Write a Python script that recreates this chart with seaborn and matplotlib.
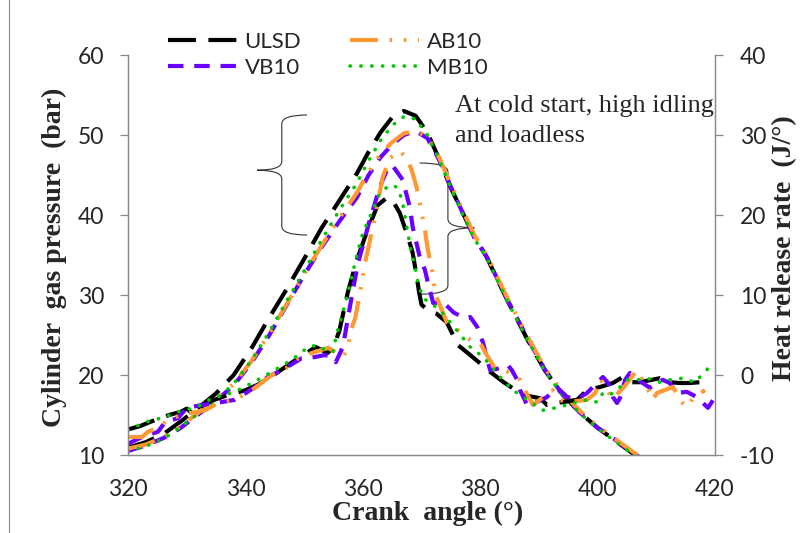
import matplotlib
matplotlib.use("Agg")
import matplotlib.pyplot as plt
import seaborn as sns
from matplotlib.path import Path
from matplotlib.patches import PathPatch
from matplotlib.lines import Line2D

# ---- data ----
fuels = ["ULSD", "VB10", "AB10", "MB10"]

# cylinder gas pressure (bar), common crank angle grid
p_angle = [320, 323, 326, 329, 332, 335, 338, 341, 344, 347, 350, 353, 356, 359, 361, 363, 365, 367,
           369, 371, 373, 375, 377, 379, 381, 383, 385, 388, 391, 394, 397, 400, 403, 406, 409]
ulsd_p = [10.9, 11.6, 12.6, 14.2, 15.9, 17.7, 20.0, 23.3, 27.1, 30.7, 34.5, 38.4, 41.8, 45.2, 47.9, 50.3, 52.2, 53.0,
          52.4, 50.3, 47.0, 43.4, 40.3, 37.3, 34.9, 31.8, 28.8, 24.5, 20.6, 17.6, 15.3, 13.4, 11.8, 10.2, 8.7]
vb10_p = [10.5, 11.2, 12.1, 13.4, 15.1, 16.8, 18.7, 21.5, 24.9, 28.7, 32.5, 36.0, 39.2, 42.2, 45.0, 47.2, 48.8, 50.0,
          50.5, 49.6, 46.9, 43.5, 40.3, 37.2, 34.9, 31.9, 28.9, 24.7, 20.7, 17.6, 15.3, 13.4, 11.9, 10.3, 8.8]
ab10_p = [10.8, 11.3, 12.2, 13.6, 15.3, 17.0, 18.9, 21.7, 25.1, 28.8, 32.6, 36.2, 39.6, 42.8, 45.4, 47.6, 49.1, 50.2,
          50.5, 49.8, 47.2, 43.8, 40.6, 37.5, 35.1, 32.1, 29.1, 24.9, 20.9, 17.8, 15.5, 13.6, 12.0, 10.4, 8.9]
mb10_p = [10.4, 11.1, 12.0, 13.5, 15.2, 16.9, 18.9, 21.8, 25.3, 29.2, 33.0, 36.9, 40.6, 44.0, 46.8, 49.3, 51.2, 52.3,
          52.0, 50.0, 46.9, 43.4, 40.1, 37.0, 34.8, 31.7, 28.7, 24.5, 20.5, 17.5, 15.2, 13.3, 11.7, 10.1, 8.6]

# heat release rate (J/deg)
ulsd_h_angle = [320, 322, 324, 327, 329, 330, 331, 332, 334, 337, 340, 342, 344, 346, 349, 352, 354, 355, 356,
                357.5, 359, 360.5, 362.5, 364, 365, 366.3, 367.7, 368.5, 369.2, 369.6, 370, 371.1, 372.5, 374.3,
                376.2, 378.3, 381.7, 384, 387.3, 390.2, 391.4, 393.1, 396.5, 398.2, 400.4, 402.6, 404.3, 405.9,
                407.2, 410.6, 412.3, 414, 415.7, 417.4, 418]
ulsd_h = [-6.8, -6.4, -5.8, -5.0, -4.6, -4.2, -4.8, -4.1, -3.3, -2.5, -1.9, -1.25, -0.4, 0.6, 2.1, 3.5, 2.75, 3.5, 5.5,
          10.5, 14.4, 17.5, 21.2, 22.1, 21.9, 20.25, 17.25, 15.25, 12.25, 10.3, 8.8, 8.1, 7.7, 6.6,
          3.75, 2.5, 0.4, -0.9, -2.5, -2.9, -3.75, -3.5, -3.1, -1.9, -1.5, -1.0, -0.25, -0.9,
          -0.9, -0.4, -0.9, -1.0, -1.0, -0.9, -0.25]

vb10_h_angle = [320, 322.4, 325.1, 326.3, 328.5, 330, 332.6, 335, 338.2, 340.4, 342.1, 343.8, 346.2, 349.6, 351.9,
                353.5, 354.9, 355.4, 356.6, 357.5, 358.3, 359.2, 361.2, 362.9, 364.1, 365, 366.8, 368, 368.5,
                369.7, 370.6, 371.1, 372, 373.7, 375.5, 377.4, 378.3, 379.5, 380.5, 381.2, 381.7, 383, 383.9,
                384.7, 385.4, 386.3, 386.8, 388, 389.3, 391.4, 392.4, 393.6, 394.8, 396.5, 398.2, 399.2, 400.9,
                401.8, 402.6, 403.3, 403.8, 404.7, 405.5, 406.9, 408.9, 410.1, 411.1, 412.3, 413.5, 415.2,
                416.9, 418.8, 419.7]
vb10_h = [-8.6, -7.75, -7.1, -5.9, -5.4, -4.1, -3.75, -3.5, -3.1, -2.1, -1.25, -0.25, 0.6, 2.1, 2.25,
          2.5, 2.25, 1.6, 3.5, 7.25, 10.6, 14.0, 19.4, 23.5, 25.6, 26.25, 24.4, 21.0, 18.5,
          14.75, 13.1, 11.5, 9.0, 9.1, 7.8, 7.1, 7.25, 6.0, 4.0, 1.9, 0.6, 0.8, 1.0,
          1.25, 0.6, -0.6, -1.9, -3.75, -3.5, -2.75, -1.9, -1.9, -2.75, -3.0, -2.25, -1.5, -0.25,
          -1.0, -2.75, -3.5, -2.9, -0.6, 0.25, -0.6, -1.6, -1.0, -0.6, -1.0, -2.25, -2.1,
          -2.75, -4.1, -3.1]

ab10_h_angle = [320, 322.4, 323.4, 325.1, 326.8, 329, 331, 333.1, 334.8, 338.7, 341.1, 344.5, 347.3, 349, 351.3,
                354.1, 355.6, 356.6, 357.5, 357.8, 358.7, 359.2, 360, 360.4, 361.6, 362.4, 363.4, 364.6, 366.3,
                367.7, 368.4, 369.2, 369.7, 370.6, 370.9, 371.4, 371.9, 372.3, 374.3, 376.6, 378.3, 380, 381.3,
                382.5, 384.7, 386.8, 387.6, 389, 390.7, 392.4, 393.6, 394.8, 398.2, 399.6, 400.5, 402.5, 404.5,
                406.7, 407.6, 408.9, 409.4, 410.1, 412.8, 414.5, 415.4, 416.3, 418.3]
ab10_h = [-7.75, -7.75, -7.1, -6.6, -5.6, -5.0, -4.7, -4.4, -3.75, -2.9, -1.9, 0.0, 1.0, 2.1, 2.75,
          3.4, 2.75, 2.25, 3.4, 5.25, 7.1, 9.0, 12.25, 14.1, 18.1, 21.0, 24.75, 27.1, 28.0,
          26.9, 25.4, 23.4, 21.5, 18.1, 16.5, 14.4, 12.75, 10.25, 6.6, 5.4, 4.4, 4.0, 2.25,
          0.9, 0.4, -0.6, -1.9, -3.75, -2.75, -1.9, -3.1, -3.4, -3.1, -2.25, -0.5, -3.0, -1.5,
          0.6, -0.6, -2.25, -3.1, -2.25, -1.5, -3.5, -4.0, -2.75, -1.9]

mb10_h_angle = [320, 322.9, 326.3, 328.5, 331.8, 334.3, 338.2, 341.1, 344.5, 347.9, 350.7, 352.3, 353.6, 354.9,
                355.6, 356.1, 357.3, 359.2, 360, 361.7, 362.9, 364.6, 365.8, 366.7, 367.5, 368.2, 368.9, 369.4,
                370.3, 372, 373.2, 376, 378.3, 380.5, 383.4, 385.6, 388, 390.7, 393.6, 395.8, 398.2, 400,
                400.9, 402.1, 403.3, 405, 406.7, 408.4, 410.6, 412.3, 414.5, 416.6, 418.3, 419.7]
mb10_h = [-6.9, -5.9, -5.25, -4.6, -4.0, -2.9, -2.1, -1.0, 0.4, 1.9, 3.5, 3.75, 3.1, 2.9,
          5.25, 6.5, 9.75, 15.6, 17.75, 20.6, 22.75, 23.75, 23.5, 21.9, 18.5, 15.5, 13.5, 11.5,
          9.6, 8.75, 8.1, 5.6, 3.5, 2.25, -0.25, -1.9, -3.1, -4.4, -4.0, -3.5, -3.1, -3.4,
          -2.25, -2.5, -1.9, -0.6, -0.6, -0.4, -0.9, -0.6, -0.4, -0.9, 0.4, 1.6]

pressure = {"ULSD": ulsd_p, "VB10": vb10_p, "AB10": ab10_p, "MB10": mb10_p}
hrr = {"ULSD": (ulsd_h_angle, ulsd_h), "VB10": (vb10_h_angle, vb10_h),
       "AB10": (ab10_h_angle, ab10_h), "MB10": (mb10_h_angle, mb10_h)}

colors = {"ULSD": "#000000", "VB10": "#6a00ff", "AB10": "#ff9933", "MB10": "#00c800"}
styles = {"ULSD": (0, (6.7, 3.0)),
          "VB10": (0, (3.7, 2.6)),
          "AB10": (0, (6.7, 2.8, 0.6, 2.8, 0.6, 2.8)),
          "MB10": (0, (0.1, 2.9))}
caps = {"ULSD": "butt", "VB10": "butt", "AB10": "butt", "MB10": "round"}
widths = {"ULSD": 3.0, "VB10": 3.0, "AB10": 3.0, "MB10": 2.6}

sns.set_style("white")
plt.rcParams["font.family"] = ["Lato", "DejaVu Sans"]
plt.rcParams["axes.unicode_minus"] = False
serif = "Liberation Serif"
axis_grey = "#8a8a8a"

fig = plt.figure(figsize=(8.03, 5.33), dpi=100)
ax = fig.add_axes([0.1594, 0.1463, 0.7310, 0.7505])
ax2 = ax.twinx()

for f in fuels:
    sns.lineplot(x=p_angle, y=pressure[f], ax=ax, color=colors[f], lw=widths[f], linestyle=styles[f],
                 dash_capstyle=caps[f], sort=False, estimator=None)
    sns.lineplot(x=hrr[f][0], y=hrr[f][1], ax=ax2, color=colors[f], lw=widths[f], linestyle=styles[f],
                 dash_capstyle=caps[f], sort=False, estimator=None)

ax.set_xlim(320, 420)
ax.set_ylim(10, 60)
ax2.set_ylim(-10, 40)
ax.set_xticks(range(320, 421, 20))
ax.set_yticks(range(10, 61, 10))
ax2.set_yticks(range(-10, 41, 10))

for a in (ax, ax2):
    for s in a.spines.values():
        s.set_color(axis_grey)
        s.set_linewidth(0.9)
    a.spines["top"].set_visible(False)
ax.tick_params(axis="both", direction="out", length=6, width=0.9, color=axis_grey, labelsize=16.5)
ax.tick_params(axis="y", pad=11)
ax.tick_params(axis="x", pad=11)
ax2.tick_params(axis="y", direction="out", length=6, width=0.9, color=axis_grey, labelsize=16.5, pad=12)

ax.set_xlabel("Crank  angle (°)", family=serif, fontweight="bold", fontsize=20)
ax.set_ylabel("Cylinder  gas pressure  (bar)", family=serif, fontweight="bold", fontsize=20)
ax2.set_ylabel("Heat release rate  (J/°)", family=serif, fontweight="bold", fontsize=20)
ax.xaxis.set_label_coords(0.511, -0.115)
ax.yaxis.set_label_coords(-0.104, 0.494)
ax2.yaxis.set_label_coords(1.097, 0.5175)


def brace(axis, x_tip, x_spine, x_point, y_top, y_bot, y_mid, r=1.1):
    verts = [(x_tip, y_top), (x_spine, y_top), (x_spine, y_top - r),
             (x_spine, y_mid + r), (x_spine, y_mid), (x_point, y_mid),
             (x_spine, y_mid), (x_spine, y_mid - r),
             (x_spine, y_bot + r), (x_spine, y_bot), (x_tip, y_bot)]
    codes = [Path.MOVETO, Path.CURVE3, Path.CURVE3,
             Path.LINETO, Path.CURVE3, Path.CURVE3,
             Path.CURVE3, Path.CURVE3,
             Path.LINETO, Path.CURVE3, Path.CURVE3]
    axis.add_patch(PathPatch(Path(verts, codes), fill=False, lw=0.8, edgecolor="#333333", zorder=1))


brace(ax, 350.5, 346.2, 342.0, 52.5, 37.5, 45.6)
brace(ax, 369.7, 374.5, 379.0, 46.5, 30.1, 38.4)

ax.text(375.7, 55.0, "At cold start, high idling\nand loadless", family=serif, fontsize=19,
        va="top", ha="left", linespacing=1.45)

handles = [Line2D([0], [0], color=colors[f], lw=widths[f], linestyle=styles[f], dash_capstyle=caps[f])
           for f in fuels]
fig.legend(handles, fuels, ncol=2, loc="upper left", bbox_to_anchor=(0.209, 0.94), frameon=False,
           borderpad=0, borderaxespad=0, handlelength=3.1, handletextpad=0.35, columnspacing=2.2,
           labelspacing=0.25, prop={"family": "Lato", "size": 16})

fig.add_artist(Line2D([9 / 803, 9 / 803], [0, 1], color=axis_grey, lw=0.8, transform=fig.transFigure))

fig.savefig("out.png", dpi=100)
